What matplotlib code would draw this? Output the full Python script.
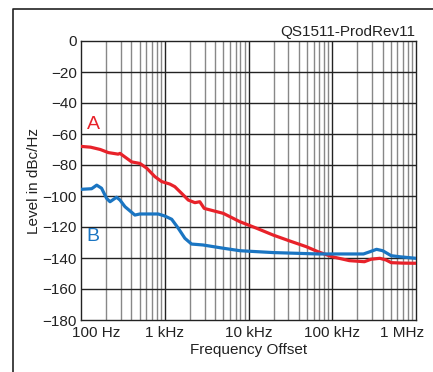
import numpy as np
import matplotlib
matplotlib.use("Agg")
import matplotlib.pyplot as plt
from matplotlib.lines import Line2D
from matplotlib.transforms import ScaledTranslation

plt.rcParams['font.family'] = ['Liberation Sans', 'DejaVu Sans']

# curve A (red)
freq_a = [100, 130, 170, 212, 278, 292, 403, 505, 608, 762, 920, 1150, 1320, 1590,
          1910, 2290, 2620, 2960, 5000, 7900, 12500, 19700, 31000, 49000, 68000,
          100000, 160000, 242000, 290000, 370000, 440000, 505000, 700000, 1000000]
level_a = [-68, -68.5, -70, -72, -73, -72.5, -78, -79, -82, -87.5, -90.7, -92.3, -94, -98.3,
           -102.6, -104.3, -103.7, -108, -111.2, -116.6, -120.8, -125.2, -129, -132.7, -136,
           -139.2, -141.7, -142.4, -140.8, -140.2, -141.3, -143, -143.3, -143.4]

# curve B (blue)
freq_b = [100, 134, 154, 176, 202, 222, 266, 292, 335, 440, 505, 835, 1000, 1210, 1450,
          1740, 2090, 2860, 5000, 7900, 19700, 68000, 236000, 280000, 338000, 400000,
          505000, 640000, 1000000]
level_b = [-95.7, -95.3, -93, -95, -101.5, -103.7, -100.8, -102.6, -106.9, -112.3, -111.6,
           -111.6, -112.9, -115, -120.8, -127.3, -131, -131.6, -133.7, -135.3, -136.5, -137.4,
           -137.4, -136, -134.4, -135.3, -138.5, -139.2, -140.2]

x_ticks = [1e2, 1e3, 1e4, 1e5, 1e6]
x_labels = ['100 Hz', '1 kHz', '10 kHz', '100 kHz', '1 MHz']
y_ticks = list(range(0, -200, -20))

fig = plt.figure(figsize=(4.33, 3.72), dpi=100)
ax = fig.add_axes([81/433, 52/372, 335/433, 279/372])

ax.set_xscale('log')
ax.set_xlim(100, 1e6)
ax.set_ylim(-180, 0)

# vertical grid: decades darker, the rest gray
for dec in [100, 1000, 10000, 100000]:
    for m in range(1, 10):
        f = dec * m
        if f <= 100 or f >= 1e6:
            continue
        c = '#222222' if m == 1 else '#888888'
        ax.axvline(f, color=c, lw=1.0, zorder=1)
for y in y_ticks[1:-1]:
    ax.axhline(y, color='#222222', lw=1.0, zorder=1)

ax.plot(freq_a, level_a, color='#e8222a', lw=2.3, zorder=3)
ax.plot(freq_b, level_b, color='#1a75c2', lw=2.3, zorder=3)

ax.set_xticks(x_ticks)
ax.set_xticklabels(x_labels)
ax.minorticks_off()
ax.set_yticks(y_ticks)
ax.set_yticklabels([str(v).replace('-', '\u2212') for v in y_ticks])
ax.tick_params(length=0, labelsize=11, pad=3, colors='#222222')
ax.tick_params(axis='x', pad=4)
xl = ax.get_xticklabels()
xl[0].set_transform(xl[0].get_transform() + ScaledTranslation(0.15, 0, fig.dpi_scale_trans))
xl[-1].set_transform(xl[-1].get_transform() + ScaledTranslation(-0.14, 0, fig.dpi_scale_trans))

for s in ax.spines.values():
    s.set_color('#222222')
    s.set_linewidth(1.0)

ax.set_xlabel('Frequency Offset', fontsize=11, color='#222222', va='top')
ax.xaxis.set_label_coords(0.5, -0.082)
ax.set_ylabel('Level in dBc/Hz', fontsize=11, color='#222222')
ax.yaxis.set_label_coords(-0.118, 0.5)

ax.text(140, -54, 'A', color='#e8222a', fontsize=14, ha='center', va='center')
ax.text(140, -126, 'B', color='#1a75c2', fontsize=14, ha='center', va='center')

fig.text(415/433, 1 - 32/372, 'QS1511-ProdRev11', fontsize=11, ha='right', va='center',
         color='#222222')

# outer frame (cut at right and bottom)
fx = 12.5/433
fy = 1 - 9/372
fig.add_artist(Line2D([fx, fx, 1.0], [0.0, fy, fy], transform=fig.transFigure,
                      color='#222222', lw=1.2))

fig.savefig('out.png', dpi=100)
